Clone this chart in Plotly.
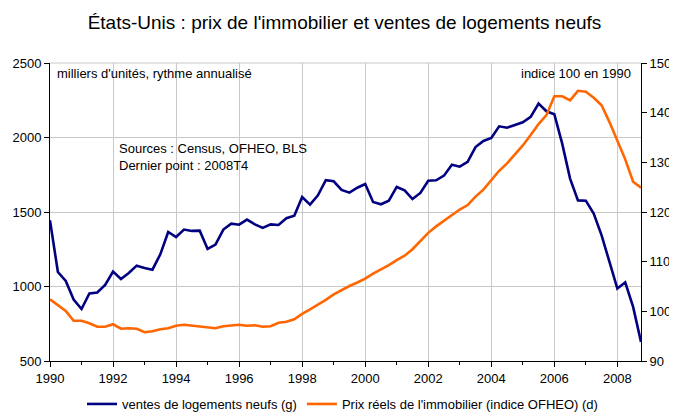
import plotly.graph_objects as go

start_year = 1990
quarters = 76  # 1990T1 .. 2008T4

ventes = [1444, 1097, 1037, 912, 849, 954, 960, 1010,
          1100, 1050, 1091, 1140, 1124, 1113, 1216, 1366,
          1332, 1382, 1373, 1375, 1252, 1281, 1382, 1422,
          1415, 1449, 1417, 1393, 1417, 1413, 1458, 1475,
          1601, 1549, 1612, 1713, 1706, 1648, 1630, 1663,
          1688, 1567, 1552, 1576, 1668, 1645, 1587, 1628,
          1710, 1713, 1744, 1818, 1804, 1836, 1936, 1977,
          1997, 2075, 2066, 2084, 2102, 2138, 2227, 2176,
          2156, 1959, 1724, 1578, 1576, 1489, 1343, 1165,
          986, 1028, 863, 628]

prix = [102.4, 101.3, 100.1, 98.1, 98.1, 97.6, 96.9, 96.9,
        97.4, 96.5, 96.6, 96.5, 95.8, 96.0, 96.4, 96.6,
        97.1, 97.3, 97.1, 96.9, 96.7, 96.6, 97.0, 97.1,
        97.3, 97.1, 97.2, 96.9, 97.0, 97.7, 97.9, 98.4,
        99.5, 100.4, 101.3, 102.3, 103.4, 104.3, 105.1, 105.8,
        106.6, 107.6, 108.4, 109.3, 110.3, 111.2, 112.5, 114.2,
        115.8, 117.1, 118.2, 119.4, 120.5, 121.4, 123.1, 124.5,
        126.5, 128.3, 129.8, 131.6, 133.4, 135.5, 137.7, 139.5,
        143.3, 143.3, 142.5, 144.4, 144.2, 143.0, 141.5, 138.1,
        134.5, 130.6, 126.1, 124.9]

x = [start_year + i * 0.25 for i in range(quarters)]
year_ticks = list(range(1990, 2009, 2))

BLUE = "#000080"
ORANGE = "#FF6600"
FONT = "Liberation Sans, Arial, sans-serif"

# page body has an 8px margin; figure sized to fit the window
W, H = 669, 406

fig = go.Figure()
fig.add_trace(go.Scatter(x=x, y=ventes, mode="lines", name="ventes de logements neufs (g)",
                         line=dict(color=BLUE, width=2.6), yaxis="y"))
fig.add_trace(go.Scatter(x=x, y=prix, mode="lines", name="Prix réels de l'immobilier (indice OFHEO) (d)",
                         line=dict(color=ORANGE, width=2.6), yaxis="y2"))

fig.update_layout(
    width=W, height=H,
    margin=dict(l=42, r=36, t=55, b=53, autoexpand=False),
    paper_bgcolor="white", plot_bgcolor="white",
    font=dict(family=FONT, size=13, color="black"),
    title=dict(text="États-Unis : prix de l'immobilier et ventes de logements neufs",
               x=0.503, xanchor="center", xref="container", yref="container",
               y=1 - 14 / H, yanchor="middle",
               font=dict(size=19, family=FONT, color="black")),
    xaxis=dict(range=[1990, 2008.75], tickvals=year_ticks, ticktext=[str(v) for v in year_ticks],
               showgrid=True, gridcolor="#C8C8C8", gridwidth=1,
               showline=True, linecolor="black", linewidth=1,
               ticks="outside", ticklen=5, tickcolor="black",
               minor=dict(dtick=1, tick0=1990, ticks="outside", ticklen=3, tickcolor="black", showgrid=False),
               zeroline=False, tickfont=dict(size=13), automargin=False),
    yaxis=dict(range=[500, 2500], dtick=500, showgrid=True, gridcolor="#C8C8C8", gridwidth=1,
               showline=True, linecolor="black", linewidth=1, ticks="outside", ticklen=5,
               tickcolor="black", zeroline=False, tickfont=dict(size=13), automargin=False),
    yaxis2=dict(range=[90, 150], dtick=10, overlaying="y", side="right", showgrid=False,
                showline=True, linecolor="black", linewidth=1, ticks="outside", ticklen=5,
                tickcolor="black", zeroline=False, tickfont=dict(size=13), automargin=False),
    legend=dict(orientation="h", x=0.5, xanchor="center", xref="container", yref="container",
                y=10 / H, yanchor="middle",
                font=dict(size=13), itemwidth=30, bgcolor="rgba(0,0,0,0)"),
    showlegend=True,
)

# top border line of the plot area
fig.add_shape(type="line", xref="paper", yref="paper", x0=0, x1=1, y0=1, y1=1,
              line=dict(color="#C8C8C8", width=1))

fig.add_annotation(text="milliers d'unités, rythme annualisé", xref="paper", yref="paper",
                   x=0.008, y=0.966, xanchor="left", yanchor="middle", showarrow=False,
                   font=dict(size=13))
fig.add_annotation(text="indice 100 en 1990", xref="paper", yref="paper",
                   x=0.987, y=0.966, xanchor="right", yanchor="middle", showarrow=False,
                   font=dict(size=13))
fig.add_annotation(text="Sources : Census, OFHEO, BLS<br>Dernier point : 2008T4", xref="paper", yref="paper",
                   x=0.113, y=0.685, xanchor="left", yanchor="middle", showarrow=False, align="left",
                   font=dict(size=13))

fig.write_html("out.html")
